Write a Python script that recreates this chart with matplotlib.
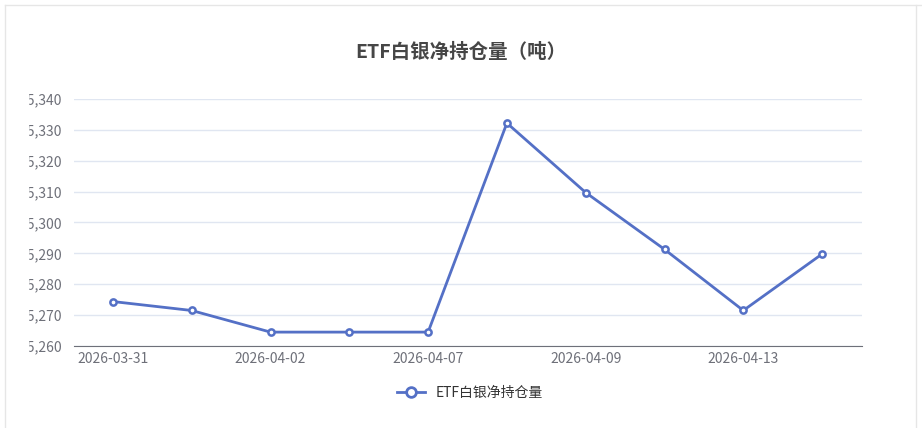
import matplotlib.pyplot as plt
import matplotlib.patches as mpatches
from matplotlib.lines import Line2D

plt.rcParams['font.family'] = ['Noto Sans CJK SC', 'DejaVu Sans']

# 数据
dates = ['2026-03-31', '2026-04-01', '2026-04-02', '2026-04-03', '2026-04-07',
         '2026-04-08', '2026-04-09', '2026-04-10', '2026-04-13', '2026-04-14']
holdings = [15274.4, 15271.5, 15264.5, 15264.5, 15264.5,
            15332.2, 15309.7, 15291.3, 15271.5, 15289.8]
color = '#5470c6'

W, H = 922, 428
fig = plt.figure(figsize=(W / 100, H / 100), dpi=100)
ax = fig.add_axes([73.5 / W, 1 - 346 / H, (861.5 - 73.5) / W, (346 - 99) / H])

x = range(len(dates))
ax.plot(x, holdings, color=color, lw=2, marker='o', ms=4.5,
        mfc='white', mec=color, mew=1.8, zorder=3)
ax.set_xlim(-0.5, len(dates) - 0.5)
ax.set_ylim(15260, 15340)
ax.set_yticks(range(15260, 15341, 10))
ax.set_yticklabels([f'{v:,}' for v in range(15260, 15341, 10)])
ax.set_xticks(list(x)[::2])
ax.set_xticklabels(dates[::2])
ax.tick_params(axis='both', length=0, labelsize=10, colors='#6e7079', pad=8)
ax.tick_params(axis='x', pad=4)
ax.grid(axis='y', color='#e0e6f1', lw=1)
for s in ['top', 'right', 'left']:
    ax.spines[s].set_visible(False)
ax.spines['bottom'].set_color('#6e7079')
ax.set_axisbelow(True)

fig.text(0.5, 1 - 52 / H, 'ETF白银净持仓量（吨）', ha='center', va='center',
         fontsize=14, fontweight='bold', color='#464646')

# 图例
h = Line2D([0], [0], color=color, lw=2, marker='o', ms=7, mfc='white', mec=color, mew=2)
fig.legend([h], ['ETF白银净持仓量'], loc='center', bbox_to_anchor=(470 / W, 1 - 393 / H),
           frameon=False, fontsize=10, handlelength=2, labelcolor='#333333')

# 左侧裁剪 + 边框
fig.patches.append(mpatches.Rectangle((0, 0), 28 / W, 1, transform=fig.transFigure,
                                      color='white', zorder=10))
fig.add_artist(Line2D([5 / W, 5 / W], [0, 1 - 5 / H], color='#e6e6e6', lw=1, zorder=11))
fig.add_artist(Line2D([5 / W, 1], [1 - 5 / H, 1 - 5 / H], color='#e6e6e6', lw=1, zorder=11))
fig.add_artist(Line2D([916 / W, 916 / W], [0, 1 - 5 / H], color='#e6e6e6', lw=1, zorder=11))

fig.savefig('out.png', dpi=100)
